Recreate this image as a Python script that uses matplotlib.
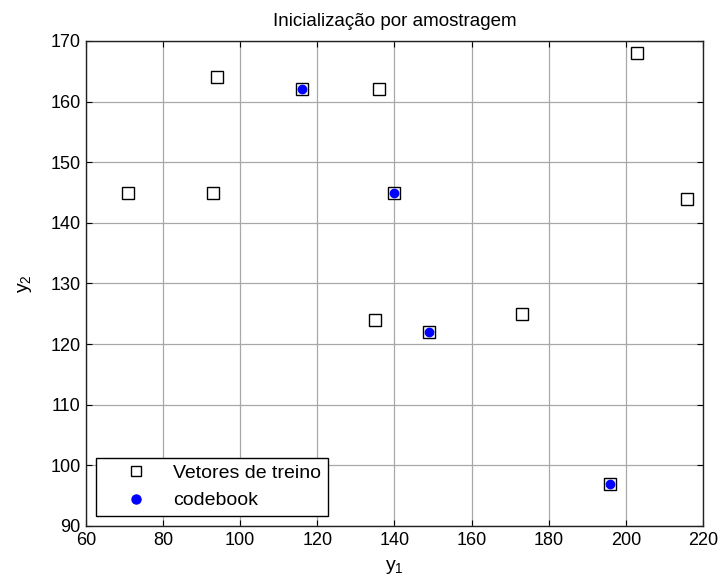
import matplotlib
matplotlib.use('Agg')
import matplotlib.pyplot as plt
from matplotlib import rcParams

rcParams['font.family'] = ['Liberation Sans', 'DejaVu Sans']
rcParams['mathtext.fontset'] = 'custom'
rcParams['mathtext.rm'] = 'Liberation Sans'
rcParams['mathtext.it'] = 'Liberation Sans'

# training vectors (y1, y2)
treino_y1 = [71, 93, 94, 116, 136, 140, 135, 149, 173, 196, 203, 216]
treino_y2 = [145, 145, 164, 162, 162, 145, 124, 122, 125, 97, 168, 144]

# codebook picked by sampling
code_y1 = [116, 140, 149, 196]
code_y2 = [162, 145, 122, 97]

xticks = [60, 80, 100, 120, 140, 160, 180, 200, 220]
yticks = [90, 100, 110, 120, 130, 140, 150, 160, 170]

fig = plt.figure(figsize=(7.19, 5.83), dpi=100)
ax = fig.add_axes([0.1196, 0.0978, 0.858, 0.832])

ax.plot(treino_y1, treino_y2, 's', ms=9, mfc='white', mec='black', mew=1.0,
        label='Vetores de treino')
ax.plot(code_y1, code_y2, 'o', ms=6, mfc='blue', mec='blue',
        label='codebook')

ax.set_xlim(60, 220)
ax.set_ylim(90, 170)
ax.set_xticks(xticks)
ax.set_yticks(yticks)
ax.grid(True, color='#a8a8a8', linewidth=0.9)
ax.set_axisbelow(True)
ax.tick_params(direction='in', length=4, top=True, right=True,
               labelsize=13, pad=4)
for s in ax.spines.values():
    s.set_linewidth(1.0)
    s.set_color('#222222')

ax.set_title('Inicialização por amostragem', fontsize=13.5, pad=11)
ax.set_xlabel(r'$\mathregular{y_1}$', fontsize=14, labelpad=7)
ax.set_ylabel(r'$\mathregular{y_2}$', fontsize=14, labelpad=12)

leg = ax.legend(loc='lower left', bbox_to_anchor=(0.016, 0.021), fontsize=14,
                fancybox=False, framealpha=1, edgecolor='black',
                borderpad=0.33, handletextpad=0.2, handlelength=3.45,
                labelspacing=0.5, borderaxespad=0)
leg.get_frame().set_linewidth(1.0)
leg.legend_handles[0].set_markersize(7.5)
leg.legend_handles[1].set_markersize(6.5)

fig.savefig('out.png', dpi=100)
